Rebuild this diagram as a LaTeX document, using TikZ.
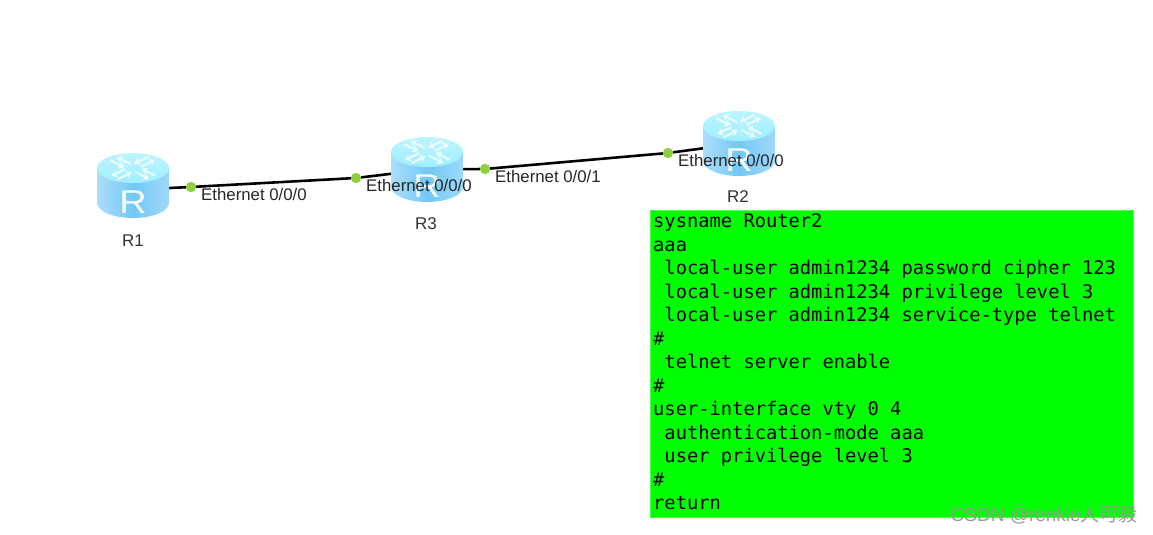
\documentclass[tikz,border=0pt]{standalone}
\usepackage{fontspec}
\usepackage{xcolor}
\usepackage{tikz}
\usetikzlibrary{positioning, arrows.meta}
\setmainfont{Liberation Sans}
\newfontfamily\cfgfont{DejaVu Sans Mono}
\newfontfamily\cjkfont{Noto Sans CJK SC}
\definecolor{routerlight}{HTML}{A0EFFF}
\definecolor{routerside}{HTML}{74C8F6}
\definecolor{portgreen}{HTML}{8CD03C}
\tikzset{
  routerbox/.style={minimum width=72pt, minimum height=65pt, inner sep=0pt},
  port/.style={circle, fill=portgreen, minimum size=10pt, inner sep=0pt},
  portlabel/.style={font=\fontsize{16.8}{16.8}\selectfont, text=black!85, inner sep=0pt},
  routerlabel/.style={font=\fontsize{17}{17}\selectfont, text=black!80, inner sep=0pt},
  link/.style={line width=2.6pt, black},
  flowarrow/.style={white!80!routerlight, line width=2pt, -{Stealth[length=6pt,width=8pt]}},
  pics/routerpic/.style={code={
    \path[left color=routerside!60!white, right color=routerside!70!white, middle color=routerside]
      (-36,17.5) -- (-36,-17.5) arc[start angle=180, end angle=360, x radius=36, y radius=15]
      -- (36,17.5) -- cycle;
    \path[top color=routerlight!70!white, bottom color=routerlight] (0,17.5) ellipse[x radius=36, y radius=15];
    \foreach \a in {0,90,180,270} {
      \begin{scope}[shift={(0,17.5)}, yscale=0.5, rotate=\a+45]
        \draw[flowarrow] (7,-4) -- (27,-4);
        \draw[flowarrow] (27,5) -- (7,5);
      \end{scope}
    }
    \node[font=\fontsize{33}{33}\selectfont, text=white!90!routerlight, inner sep=0pt, xscale=1.15] at (0,-17) {R};
  }}
}
\begin{document}
\begin{tikzpicture}[x=1pt, y=1pt]
\useasboundingbox (0,0) rectangle (1153,535);
% routers
\node[routerbox] (R1) at (133,349.5) {};
\node[routerbox] (R3) at (427,365.5) {};
\node[routerbox] (R2) at (739,391.5) {};
% ports
\node[port] (p1) at (191,348) {};
\node[port] (p2) at (356,357) {};
\node[port] (p3) at (485,366) {};
\node[port] (p4) at (668,382) {};
\draw[link] (R1.-4) -- (p1) -- (p2) -- (R3.center);
\draw[link] (R3.center) -- (p3) -- (p4) -- (R2.center);
\node[port] at (p1) {};
\node[port] at (p2) {};
\node[port] at (p3) {};
\node[port] at (p4) {};
\path (R1) pic {routerpic};
\path (R3) pic {routerpic};
\path (R2) pic {routerpic};
% labels
\node[routerlabel] (R1name) at (133,294) {R1};
\node[routerlabel] (R3name) at (426,311) {R3};
\node[routerlabel] (R2name) at (738,338) {R2};
\node[portlabel, anchor=west] (l1) at (201,340.5) {Ethernet 0/0/0};
\node[portlabel, anchor=west] (l2) at (366,349) {Ethernet 0/0/0};
\node[portlabel, anchor=west] (l3) at (495,358.5) {Ethernet 0/0/1};
\node[portlabel, anchor=west] (l4) at (678,374.5) {Ethernet 0/0/0};
% config
\node[anchor=north west, fill=green, draw=green!70!white, line width=0.5pt, minimum width=482.5pt, minimum height=307pt, inner sep=0pt] (cfg) at (650,325) {};
\foreach \n/\t in {0/sysname Router2,1/aaa,2/{ local-user admin1234 password cipher 123},3/{ local-user admin1234 privilege level 3},4/{ local-user admin1234 service-type telnet},5/\#,6/{ telnet server enable},7/\#,8/user-interface vty 0 4,9/{ authentication-mode aaa},10/{ user privilege level 3},11/\#,12/return} {
  \node[anchor=base west, inner sep=0pt, font=\cfgfont\fontsize{18.75}{18.75}\selectfont] at (653,{307-23.5*\n}) {\obeyspaces\t};
}
\node[anchor=east, text=black!40, inner sep=0pt, font=\fontsize{19}{19}\selectfont] (mark) at (1138,20) {CSDN @renkie{\cjkfont 人可毅}};
\end{tikzpicture}
\end{document}
